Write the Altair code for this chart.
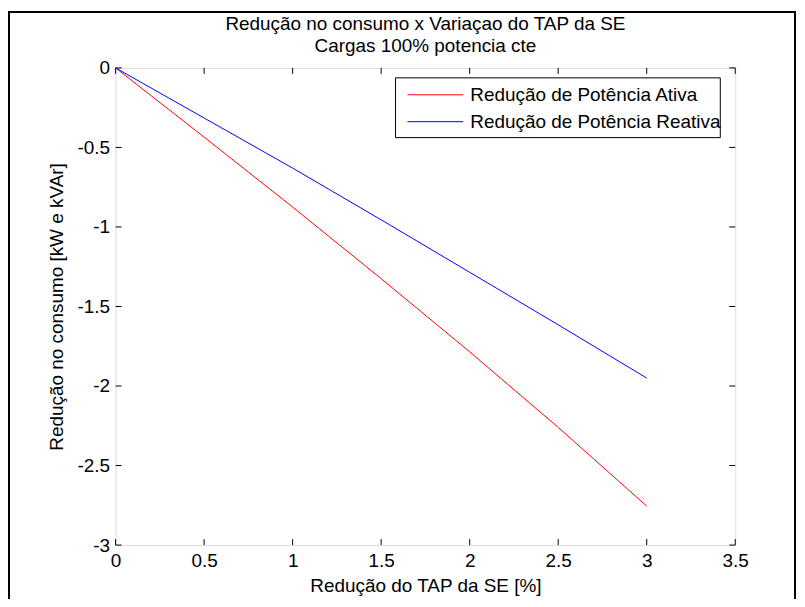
import altair as alt
import pandas as pd

# ---- data ----
tap = [0, 0.5, 1, 1.5, 2, 2.5, 3]
ativa = [0, -0.435, -0.875, -1.325, -1.785, -2.26, -2.755]
reativa = [0, -0.315, -0.63, -0.955, -1.285, -1.615, -1.95]
series_names = ["Redução de Potência Ativa", "Redução de Potência Reativa"]
series_colors = ["#ff0000", "#0000ff"]
x_ticks = [0, 0.5, 1, 1.5, 2, 2.5, 3, 3.5]
y_ticks = [0, -0.5, -1, -1.5, -2, -2.5, -3]
title_lines = ["Redução no consumo x Variaçao do TAP da SE", "Cargas 100% potencia cte"]
x_title = "Redução do TAP da SE [%]"
y_title = "Redução no consumo [kW e kVAr]"

df = pd.DataFrame({
    "tap": tap + tap,
    "val": ativa + reativa,
    "serie": [series_names[0]] * len(tap) + [series_names[1]] * len(tap),
    "ord": list(range(len(tap))) * 2,
})
xt = pd.DataFrame({"v": x_ticks})
yt = pd.DataFrame({"v": y_ticks})
one = pd.DataFrame({"k": [0]})

W, H = 622, 479
FONT = "Liberation Sans"
FS = 19
TICK = 6

xs = alt.Scale(domain=[0, 3.5], nice=False, zero=False)
ys = alt.Scale(domain=[-3, 0], nice=False, zero=False)

xaxis = alt.Axis(values=x_ticks, ticks=False, domain=False, grid=False,
                 labelExpr="'' + datum.value", labelFlush=False, labelOverlap=False,
                 labelFontSize=FS, labelFont=FONT, labelColor="black", labelPadding=6,
                 title=x_title, titleFontSize=FS, titleFont=FONT, titleFontWeight="normal",
                 titleColor="black", titlePadding=7)
yaxis = alt.Axis(values=y_ticks, ticks=False, domain=False, grid=False,
                 labelExpr="'' + datum.value", labelFlush=False, labelOverlap=False,
                 labelFontSize=FS, labelFont=FONT, labelColor="black", labelPadding=6,
                 title=y_title, titleFontSize=FS, titleFont=FONT, titleFontWeight="normal",
                 titleColor="black", titlePadding=11)

lines = alt.Chart(df).mark_line(strokeWidth=1, clip=True).encode(
    x=alt.X("tap:Q", scale=xs, axis=xaxis),
    y=alt.Y("val:Q", scale=ys, axis=yaxis),
    color=alt.Color("serie:N", scale=alt.Scale(domain=series_names, range=series_colors),
                    legend=None),
    order="ord:Q",
)

tick_bottom = alt.Chart(xt).mark_rule(color="black", strokeWidth=1).encode(
    x=alt.X("v:Q", scale=xs), y=alt.value(H), y2=alt.value(H - TICK))
tick_top = alt.Chart(xt).mark_rule(color="black", strokeWidth=1).encode(
    x=alt.X("v:Q", scale=xs), y=alt.value(0), y2=alt.value(TICK))
tick_left = alt.Chart(yt).mark_rule(color="black", strokeWidth=1).encode(
    y=alt.Y("v:Q", scale=ys), x=alt.value(0), x2=alt.value(TICK))
tick_right = alt.Chart(yt).mark_rule(color="black", strokeWidth=1).encode(
    y=alt.Y("v:Q", scale=ys), x=alt.value(W), x2=alt.value(W - TICK))

# legend box (manual, MATLAB style)
legend_box = alt.Chart(one).mark_rect(fill="white", stroke="black", strokeWidth=1).encode(
    x=alt.value(281), x2=alt.value(607), y=alt.value(10), y2=alt.value(70))
legend_layers = [legend_box]
for i, (name, col) in enumerate(zip(series_names, series_colors)):
    ly = 27 + 27 * i
    leg_df = pd.DataFrame({"serie": [name]})
    legend_layers.append(alt.Chart(leg_df).mark_rule(color=col, strokeWidth=1).encode(
        x=alt.value(293), x2=alt.value(349), y=alt.value(ly)))
    legend_layers.append(alt.Chart(leg_df).mark_text(
        align="left", baseline="middle", font=FONT, fontSize=FS, color="black").encode(
        x=alt.value(356), y=alt.value(ly), text="serie:N"))

# two-line title as text marks centred over the plot
title_layers = []
for i, line in enumerate(title_lines):
    tdf = pd.DataFrame({"t": [line]})
    title_layers.append(alt.Chart(tdf).mark_text(
        align="center", baseline="middle", font=FONT, fontSize=FS, color="black").encode(
        x=alt.value(W / 2), y=alt.value(-44 + 22 * i), text="t:N"))

frame = alt.Chart(one).mark_rect(filled=False, stroke="black", strokeWidth=2).encode(
    x=alt.value(-107), x2=alt.value(682), y=alt.value(-56), y2=alt.value(620))

chart = alt.layer(frame, tick_bottom, tick_top, tick_left, tick_right, lines,
                  *legend_layers, *title_layers).properties(
    width=W, height=H,
    autosize=alt.AutoSizeParams(type="none"),
    padding={"left": 108, "top": 59, "right": 62, "bottom": 53},
).configure_view(stroke="black", strokeWidth=1).configure(background="white")

chart.save("out.html", embed_options={"renderer": "svg", "actions": False})
